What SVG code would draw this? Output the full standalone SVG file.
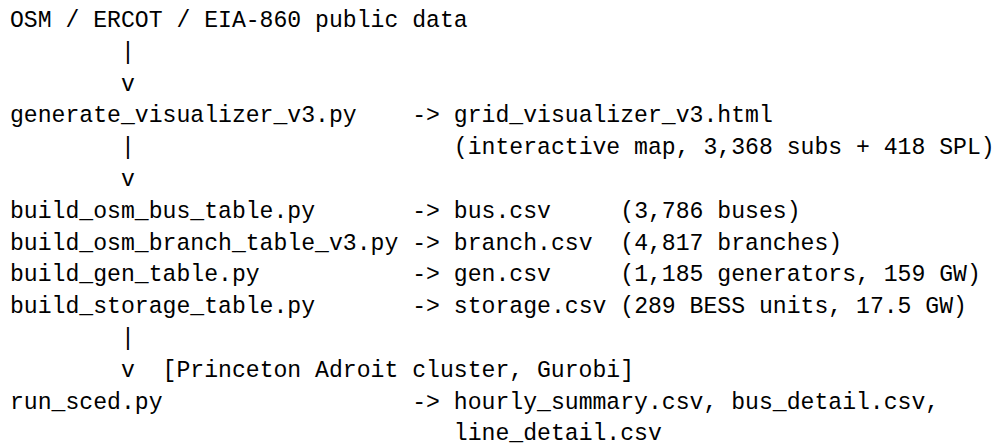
<svg xmlns="http://www.w3.org/2000/svg" width="998" height="447" viewBox="0 0 998 447">
  <style>
    text { font-family: "Liberation Mono", "DejaVu Sans Mono", monospace; font-size: 23.12px; fill: #000; white-space: pre; }
  </style>
  <rect width="998" height="447" fill="#fff"/>

  <!-- pipeline stages; one character cell = 13.87px, first column at x=10, rows every 31.8px -->
  <g id="source">
    <text x="10" y="27">OSM / ERCOT / EIA-860 public data</text>
  </g>
  <g id="generate-visualizer">
    <text x="10" y="122.4">generate_visualizer_v3.py</text>
  </g>
  <g id="grid-visualizer">
    <text x="453.84" y="122.4">grid_visualizer_v3.html</text>
    <text x="453.84" y="154.2">(interactive map, 3,368 subs + 418 SPL)</text>
  </g>
  <g id="bus-table">
    <text x="10" y="217.8">build_osm_bus_table.py</text>
    <text x="453.84" y="217.8">bus.csv</text>
    <text x="620.28" y="217.8">(3,786 buses)</text>
  </g>
  <g id="branch-table">
    <text x="10" y="249.6">build_osm_branch_table_v3.py</text>
    <text x="453.84" y="249.6">branch.csv</text>
    <text x="620.28" y="249.6">(4,817 branches)</text>
  </g>
  <g id="gen-table">
    <text x="10" y="281.4">build_gen_table.py</text>
    <text x="453.84" y="281.4">gen.csv</text>
    <text x="620.28" y="281.4">(1,185 generators, 159 GW)</text>
  </g>
  <g id="storage-table">
    <text x="10" y="313.2">build_storage_table.py</text>
    <text x="453.84" y="313.2">storage.csv</text>
    <text x="620.28" y="313.2">(289 BESS units, 17.5 GW)</text>
  </g>
  <g id="cluster-note">
    <text x="162.57" y="376.8">[Princeton Adroit cluster, Gurobi]</text>
  </g>
  <g id="run-sced">
    <text x="10" y="408.6">run_sced.py</text>
  </g>
  <g id="sced-outputs">
    <text x="453.84" y="408.6">hourly_summary.csv, bus_detail.csv,</text>
    <text x="453.84" y="440.4">line_detail.csv</text>
  </g>

  <!-- ASCII connectors -->
  <g id="connectors">
    <text x="120.96" y="58.8">|</text>
    <text x="120.96" y="90.6">v</text>
    <text x="120.96" y="154.2">|</text>
    <text x="120.96" y="186">v</text>
    <text x="120.96" y="345">|</text>
    <text x="120.96" y="376.8">v</text>
    <text x="412.23" y="122.4">-&gt;</text>
    <text x="412.23" y="217.8">-&gt;</text>
    <text x="412.23" y="249.6">-&gt;</text>
    <text x="412.23" y="281.4">-&gt;</text>
    <text x="412.23" y="313.2">-&gt;</text>
    <text x="412.23" y="408.6">-&gt;</text>
  </g>
</svg>
